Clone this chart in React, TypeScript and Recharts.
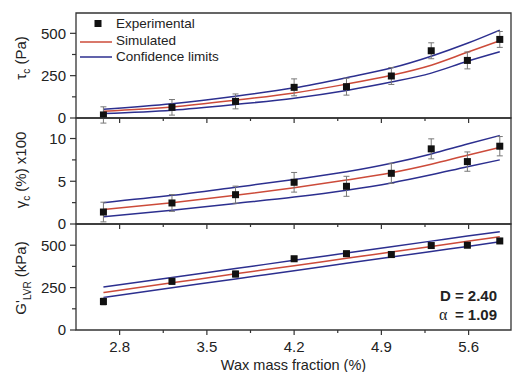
import { ComposedChart, Line, Scatter, ErrorBar, XAxis, YAxis, ReferenceArea } from 'recharts';

// wax mass fraction (%) of each sample
const waxFraction = [2.67, 3.22, 3.73, 4.2, 4.62, 4.98, 5.3, 5.59, 5.85];

// tau_c (Pa)
const tauExp = [18, 63, 98, 181, 185, 248, 397, 340, 464];
const tauErr = [48, 46, 44, 50, 50, 50, 47, 50, 47];
const tauSim = [40, 65, 105, 148, 200, 252, 312, 388, 456];
const tauUpper = [52, 84, 128, 178, 238, 295, 365, 441, 519];
const tauLower = [26, 46, 80, 117, 163, 212, 265, 335, 391];

// gamma_c (%) x100
const gamExp = [1.4, 2.46, 3.43, 4.88, 4.41, 5.93, 8.79, 7.3, 9.1];
const gamErr = [1.15, 0.98, 1.0, 1.15, 1.17, 1.17, 1.17, 1.13, 1.13];
const gamSim = [1.7, 2.5, 3.35, 4.25, 5.15, 6.0, 7.0, 8.05, 8.95];
const gamUpper = [2.5, 3.35, 4.3, 5.2, 6.1, 7.1, 8.2, 9.35, 10.35];
const gamLower = [0.85, 1.6, 2.4, 3.15, 3.95, 4.8, 5.75, 6.7, 7.5];

// G'_LVR (kPa)
const gExp = [168, 287, 330, 420, 450, 445, 498, 500, 525];
const gErr = [20, 18, 18, 15, 15, 18, 15, 15, 15];
const gSim = [221, 278, 331, 379, 423, 460, 493, 523, 550];
const gUpper = [253, 310, 362, 411, 454, 491, 524, 554, 580];
const gLower = [192, 249, 301, 350, 393, 430, 463, 493, 520];

const xTicks = [2.8, 3.15, 3.5, 3.85, 4.2, 4.55, 4.9, 5.25, 5.6];
const xMajor = [2.8, 3.5, 4.2, 4.9, 5.6];
const stressTicks = [0, 125, 250, 375, 500];
const stressMajor = [0, 250, 500];
const strainTicks = [0, 2.5, 5, 7.5, 10];
const strainMajor = [0, 5, 10];

const W = 517;
const H = 372;
const X_DOMAIN = [2.45, 5.94];
const XAXIS_H = 20;
const FONT = '"Liberation Sans", Arial, sans-serif';
const RED = '#cc4b3a';
const BLUE = '#2c2f8f';
const AXIS = '#333';
const TEXT = '#222';

const data = waxFraction.map((x, i) => ({
  x,
  tau: tauExp[i], tauErr: tauErr[i], tauSim: tauSim[i], tauUp: tauUpper[i], tauLow: tauLower[i],
  gam: gamExp[i], gamErr: gamErr[i], gamSim: gamSim[i], gamUp: gamUpper[i], gamLow: gamLower[i],
  g: gExp[i], gErr: gErr[i], gSim: gSim[i], gUp: gUpper[i], gLow: gLower[i],
}));

const Square = (props: any) => {
  const { cx, cy } = props;
  if (cx == null || cy == null) return null;
  return <rect x={cx - 3.5} y={cy - 3.5} width={7} height={7} fill="#111" />;
};

const makeYTick = (major: number[]) => (props: any) => {
  const { x, y, payload } = props;
  const isMajor = major.includes(payload.value);
  return (
    <g>
      <line x1={x - (isMajor ? 6 : 4)} x2={x} y1={y} y2={y} stroke={AXIS} strokeWidth={1.2} />
      {isMajor && (
        <text x={x - 10} y={y} dy="0.36em" textAnchor="end" fontSize={15} fontFamily={FONT} fill={TEXT}>
          {payload.value}
        </text>
      )}
    </g>
  );
};

const makeXTick = (showLabels: boolean) => (props: any) => {
  const { x, y, payload } = props;
  const isMajor = xMajor.includes(payload.value);
  return (
    <g>
      <line x1={x} x2={x} y1={y} y2={y + (isMajor ? 5 : 3)} stroke={AXIS} strokeWidth={1.2} />
      {showLabels && isMajor && (
        <text x={x} y={y + 22} textAnchor="middle" fontSize={15} fontFamily={FONT} fill={TEXT}>
          {payload.value.toFixed(1)}
        </text>
      )}
    </g>
  );
};

interface PanelProps {
  top: number;
  bottom: number;
  yMax: number;
  yTicks: number[];
  yMajor: number[];
  k: string;
  showXLabels?: boolean;
}

function Panel({ top, bottom, yMax, yTicks, yMajor, k, showXLabels = false }: PanelProps) {
  return (
    <div style={{ position: 'absolute', left: 0, top: 0 }}>
      <ComposedChart
        width={W}
        height={H}
        data={data}
        margin={{ top, right: 6, left: 0, bottom: H - bottom - XAXIS_H }}
      >
        <XAxis
          dataKey="x"
          type="number"
          domain={X_DOMAIN}
          allowDataOverflow
          ticks={xTicks}
          interval={0}
          height={XAXIS_H}
          axisLine={false}
          tickLine={false}
          tickSize={0}
          tickMargin={0}
          tick={makeXTick(showXLabels)}
        />
        <YAxis
          type="number"
          domain={[0, yMax]}
          allowDataOverflow
          ticks={yTicks}
          interval={0}
          width={76}
          axisLine={false}
          tickLine={false}
          tickSize={0}
          tickMargin={0}
          tick={makeYTick(yMajor)}
        />
        <ReferenceArea x1={X_DOMAIN[0]} x2={X_DOMAIN[1]} y1={0} y2={yMax} fill="none" stroke={AXIS} strokeWidth={1.3} />
        <Line type="monotone" dataKey={k + 'Up'} stroke={BLUE} strokeWidth={1.5} dot={false} isAnimationActive={false} />
        <Line type="monotone" dataKey={k + 'Low'} stroke={BLUE} strokeWidth={1.5} dot={false} isAnimationActive={false} />
        <Line type="monotone" dataKey={k + 'Sim'} stroke={RED} strokeWidth={1.5} dot={false} isAnimationActive={false} />
        <Scatter dataKey={k} shape={Square} isAnimationActive={false}>
          <ErrorBar dataKey={k + 'Err'} direction="y" width={3} stroke="#777" strokeWidth={1} />
        </Scatter>
      </ComposedChart>
    </div>
  );
}

export default function App() {
  return (
    <div style={{ position: 'absolute', left: 0, top: 0, width: W, height: H, background: '#fff' }}>
      <Panel top={13} bottom={118} yMax={620} yTicks={stressTicks} yMajor={stressMajor} k="tau" />
      <Panel top={118} bottom={224} yMax={12.4} yTicks={strainTicks} yMajor={strainMajor} k="gam" />
      <Panel top={224} bottom={330} yMax={625} yTicks={stressTicks} yMajor={stressMajor} k="g" showXLabels />
      <svg width={W} height={H} style={{ position: 'absolute', left: 0, top: 0, pointerEvents: 'none' }} fontFamily={FONT}>
        {/* legend */}
        <rect x={94.5} y={20} width={7} height={7} fill="#111" />
        <text x={116} y={28} fontSize={13.5} fill={TEXT}>Experimental</text>
        <line x1={80} x2={112} y1={42} y2={42} stroke={RED} strokeWidth={1.5} />
        <text x={116} y={44.5} fontSize={13.5} fill={TEXT}>Simulated</text>
        <line x1={80} x2={112} y1={57} y2={57} stroke={BLUE} strokeWidth={1.5} />
        <text x={116} y={60.5} fontSize={13.5} fill={TEXT}>Confidence limits</text>

        {/* y titles */}
        <text transform="translate(21,58) rotate(-90)" textAnchor="middle" fontSize={15} fill={TEXT}>
          <tspan dy="0.36em">τ</tspan>
          <tspan dy="4" fontSize={10}>c</tspan>
          <tspan dy="-4"> (Pa)</tspan>
        </text>
        <text transform="translate(21,170) rotate(-90)" textAnchor="middle" fontSize={15} fill={TEXT}>
          <tspan dy="0.36em">γ</tspan>
          <tspan dy="4" fontSize={10}>c</tspan>
          <tspan dy="-4"> (%) x100</tspan>
        </text>
        <text transform="translate(21,278) rotate(-90)" textAnchor="middle" fontSize={15} fill={TEXT}>
          <tspan dy="0.36em">G'</tspan>
          <tspan dy="5" fontSize={10}>LVR</tspan>
          <tspan dy="-5"> (kPa)</tspan>
        </text>

        {/* x title */}
        <text x={293.5} y={369.5} textAnchor="middle" fontSize={14.5} fill={TEXT}>Wax mass fraction (%)</text>

        {/* fit parameters */}
        <text x={497} y={301} textAnchor="end" fontSize={15} fontWeight="bold" fill={TEXT}>D = 2.40</text>
        <text x={439} y={320} fontSize={16} fontFamily="'Liberation Serif', serif" fill={TEXT}>α</text>
        <text x={497} y={320} textAnchor="end" fontSize={15} fontWeight="bold" fill={TEXT}>= 1.09</text>
      </svg>
    </div>
  );
}
